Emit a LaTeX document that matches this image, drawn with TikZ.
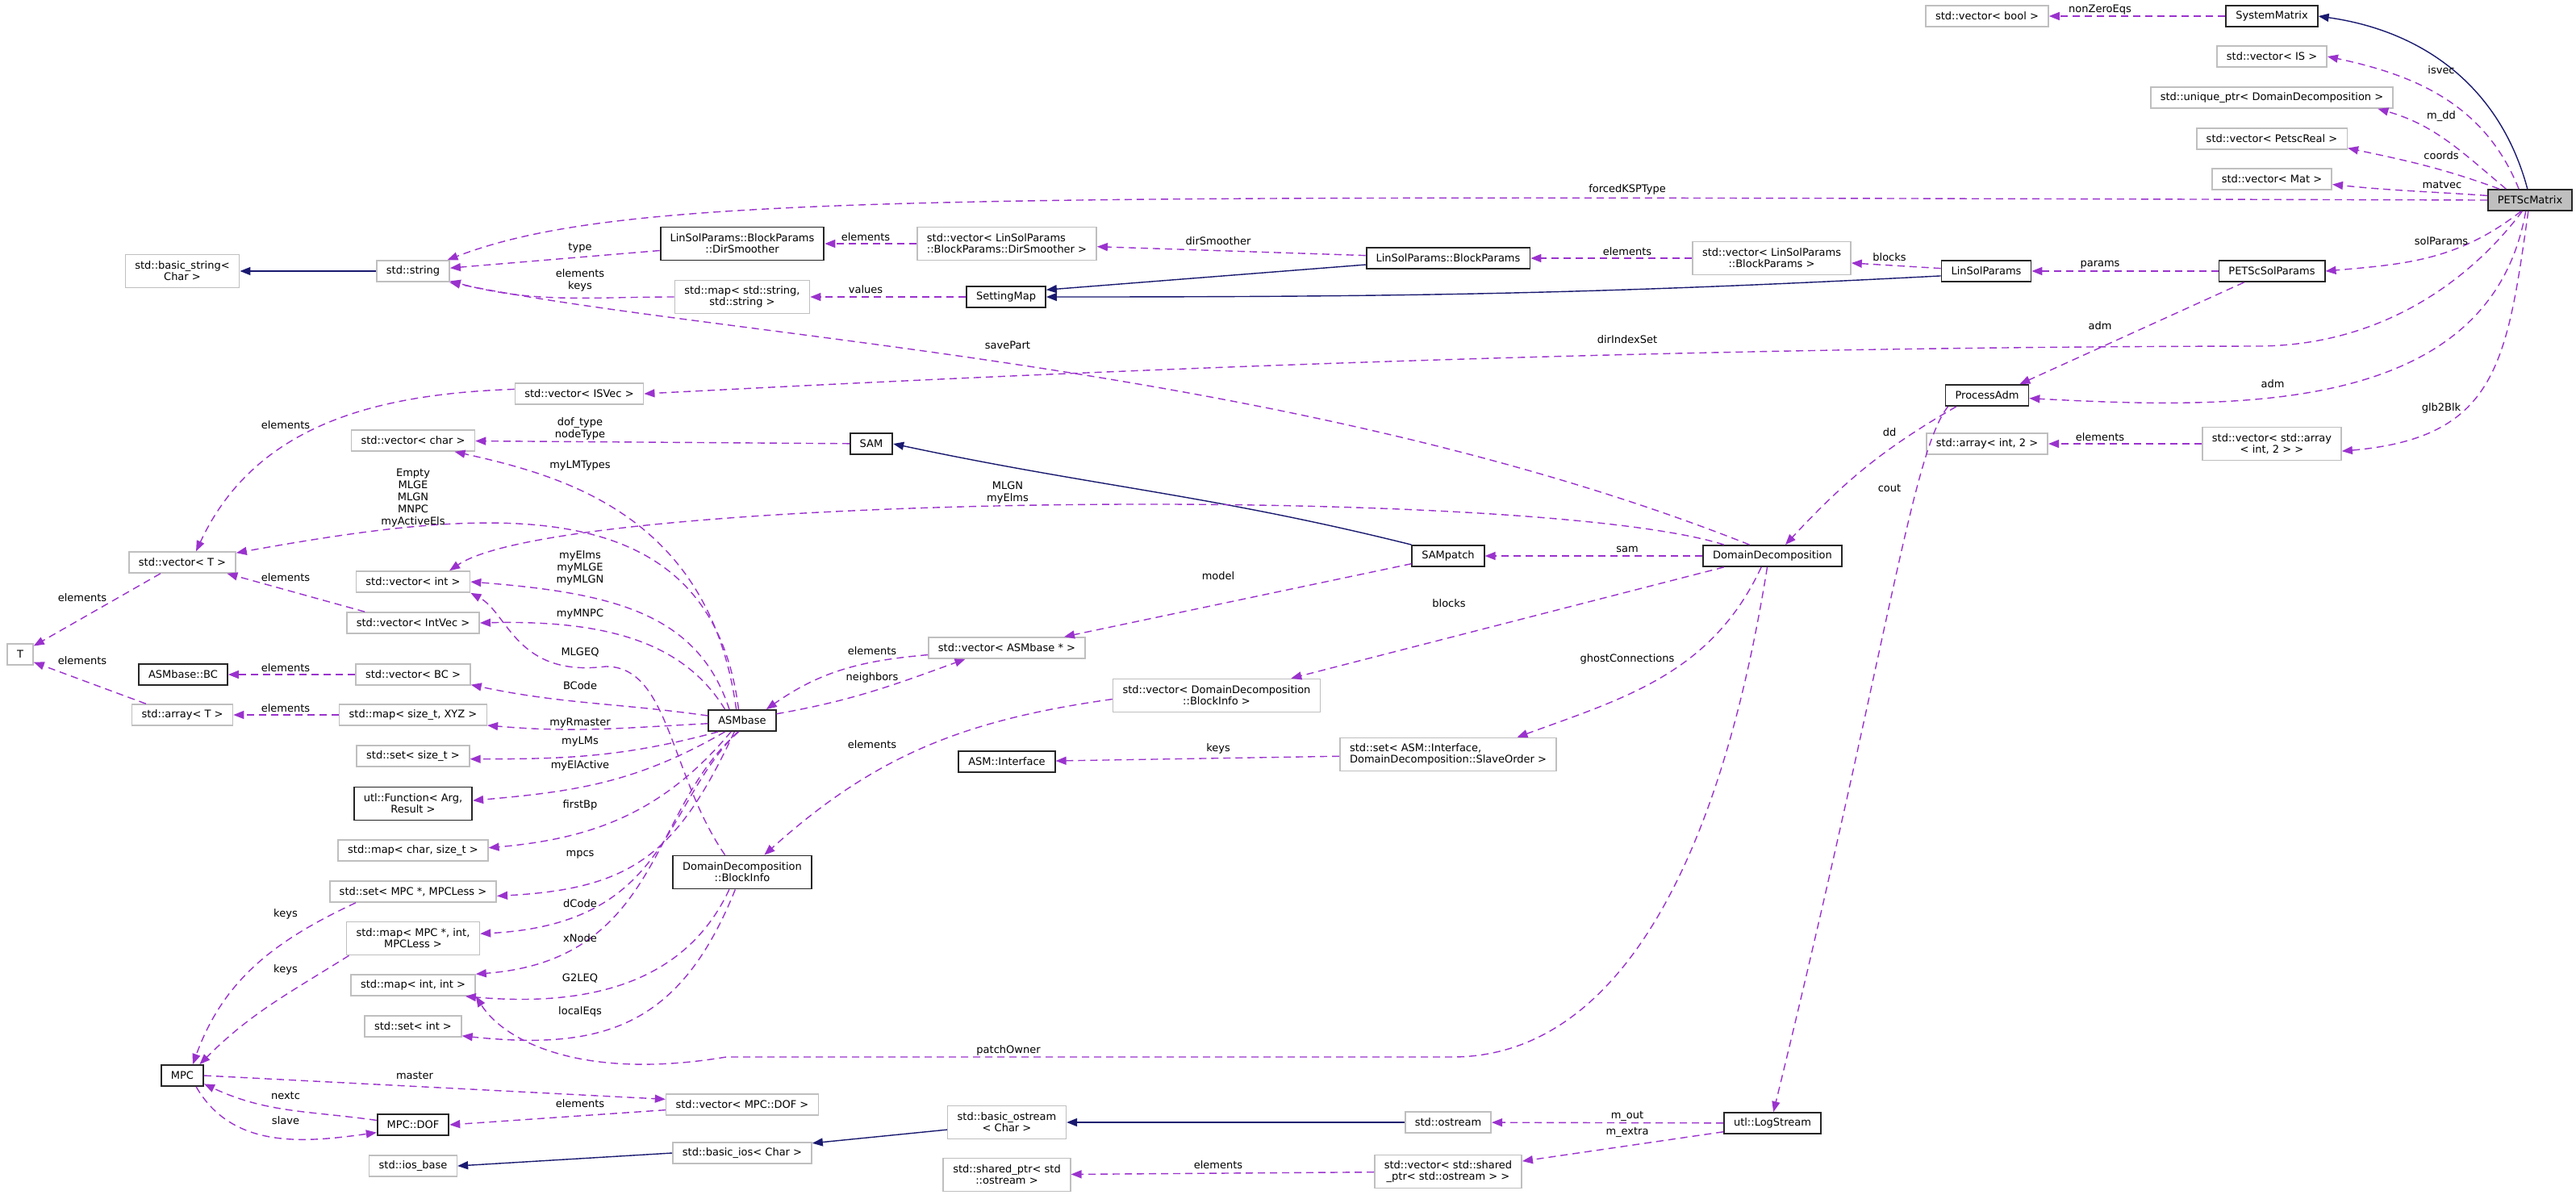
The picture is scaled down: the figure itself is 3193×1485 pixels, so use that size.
\documentclass[tikz,border=0pt]{standalone}
\usepackage{fontspec}
\setmainfont{DejaVu Sans}
\usepackage{xcolor}
\usepackage{tikz}
\usetikzlibrary{arrows.meta}
\definecolor{usecol}{HTML}{9A32CD}
\definecolor{inhcol}{HTML}{191970}
\definecolor{extcol}{HTML}{BFBFBF}

\begin{document}
\begin{tikzpicture}[x=0.5pt, y=-0.5pt,
    every node/.style={font=\fontsize{6.5}{7}\selectfont},
    cls/.style={rectangle, draw=black!85, line width=0.9pt, fill=white,
                minimum height=13pt, inner xsep=6pt, inner ysep=2pt, align=center},
    ext/.style={cls, draw=extcol, line width=0.8pt},
    focus/.style={cls, fill=extcol},
    two/.style={minimum height=20.5pt},
    lbl/.style={inner sep=0pt, align=center, font=\fontsize{6.5}{7.5}\selectfont},
    uses/.style={-{Triangle[length=6.5pt, width=5pt]}, dash pattern=on 4.5pt off 3pt,
                 line width=0.7pt, usecol},
    inh/.style={-{Triangle[length=6.5pt, width=5pt]}, line width=0.7pt, inhcol}
]
\useasboundingbox (0,0) rectangle (3193,1485);

\node[focus] (petscMatrix) at (3136,248) {PETScMatrix};
\node[cls] (systemMatrix) at (2816,20) {SystemMatrix};
\node[ext] (vecBool) at (2463,20) {std::vector< bool >};
\node[ext] (vecIS) at (2816,70) {std::vector< IS >};
\node[ext] (uniqueDD) at (2816,121) {std::unique\_ptr< DomainDecomposition >};
\node[ext] (vecReal) at (2816,172) {std::vector< PetscReal >};
\node[ext] (vecMat) at (2816,222) {std::vector< Mat >};
\node[cls] (petscSolParams) at (2816,336) {PETScSolParams};
\node[cls] (linSolParams) at (2462,336) {LinSolParams};
\node[ext, two] (vecBlockP) at (2196,320) {std::vector< LinSolParams\\::BlockParams >};
\node[cls] (blockParams) at (1795,320) {LinSolParams::BlockParams};
\node[ext, two, align=left] (vecDirSm) at (1248,302) {std::vector< LinSolParams\\::BlockParams::DirSmoother >};
\node[cls, two] (dirSmoother) at (920,302) {LinSolParams::BlockParams\\::DirSmoother};
\node[cls] (settingMap) at (1247,368) {SettingMap};
\node[ext, two] (mapString) at (920,368) {std::map< std::string,\\std::string >};
\node[ext] (stdString) at (512,336) {std::string};
\node[ext, two] (basicString) at (226,336) {std::basic\_string<\\Char >};
\node[cls] (processAdm) at (2463,490) {ProcessAdm};
\node[ext] (arrayInt) at (2463,550) {std::array< int, 2 >};
\node[ext, two] (vecArray) at (2816,550) {std::vector< std::array\\< int, 2 > >};
\node[ext] (vecISVec) at (718,488) {std::vector< ISVec >};
\node[cls] (domDec) at (2197,689) {DomainDecomposition};
\node[cls] (samPatch) at (1795,689) {SAMpatch};
\node[cls] (sam) at (1080,550) {SAM};
\node[ext] (vecASM) at (1248,803) {std::vector< ASMbase * >};
\node[ext, two] (vecBlockInfo) at (1508,862) {std::vector< DomainDecomposition\\::BlockInfo >};
\node[cls] (asmInterface) at (1248,944) {ASM::Interface};
\node[ext, two, align=left] (setInterface) at (1795,935) {std::set< ASM::Interface,\\ DomainDecomposition::SlaveOrder >};
\node[cls] (asmBase) at (920,893) {ASMbase};
\node[cls, two] (blockInfo) at (920,1081) {DomainDecomposition\\::BlockInfo};
\node[ext] (vecChar) at (512,546) {std::vector< char >};
\node[ext] (vecT) at (226,697) {std::vector< T >};
\node[ext] (vecInt) at (512,721) {std::vector< int >};
\node[ext] (vecIntVec) at (512,772) {std::vector< IntVec >};
\node[ext] (nodeT) at (25,811) {T};
\node[cls] (asmBC) at (227,836) {ASMbase::BC};
\node[ext] (vecBC) at (512,836) {std::vector< BC >};
\node[ext] (arrayT) at (226,886) {std::array< T >};
\node[ext] (mapXYZ) at (512,886) {std::map< size\_t, XYZ >};
\node[ext] (setSize) at (512,937) {std::set< size\_t >};
\node[cls, two] (utlFunction) at (512,996) {utl::Function< Arg,\\Result >};
\node[ext] (mapChar) at (512,1054) {std::map< char, size\_t >};
\node[ext] (setMPC) at (512,1105) {std::set< MPC *, MPCLess >};
\node[ext, two] (mapMPC) at (512,1163) {std::map< MPC *, int,\\MPCLess >};
\node[ext] (mapInt) at (512,1221) {std::map< int, int >};
\node[ext] (setInt) at (512,1272) {std::set< int >};
\node[cls] (mpc) at (226,1333) {MPC};
\node[cls] (mpcDOF) at (512,1394) {MPC::DOF};
\node[ext] (vecDOF) at (920,1369) {std::vector< MPC::DOF >};
\node[ext] (basicIos) at (920,1429) {std::basic\_ios< Char >};
\node[ext] (iosBase) at (512,1445) {std::ios\_base};
\node[ext, two] (basicOstream) at (1248,1391) {std::basic\_ostream\\< Char >};
\node[ext] (ostream) at (1795,1391) {std::ostream};
\node[cls] (logStream) at (2197,1392) {utl::LogStream};
\node[ext, two] (sharedPtr) at (1248,1456) {std::shared\_ptr< std\\::ostream >};
\node[ext, two] (vecShared) at (1795,1452) {std::vector< std::shared\\\_ptr< std::ostream > >};

% inheritance
\draw[inh] (petscMatrix.103) to[out=105, in=-8] (systemMatrix.east);
\draw[inh] (stdString) -- (basicString);
\draw[inh] (blockParams) -- (settingMap.10);
\draw[inh] (linSolParams.186) to[out=183, in=0] (settingMap.east);
\draw[inh] (samPatch.north west) to[out=166, in=-12] (sam.east);
\draw[inh] (ostream) -- (basicOstream);
\draw[inh] (basicOstream.187) -- (basicIos.8);
\draw[inh] (basicIos.west) -- (iosBase.east);

% members
\draw[uses] (systemMatrix) -- (vecBool);
\draw[uses] (petscMatrix.135) to[out=112, in=-12] (vecIS.east);
\draw[uses] (petscMatrix.155) to[out=140, in=-16] (uniqueDD.-6.5);
\draw[uses] (petscMatrix.160) to[out=160, in=-12] (vecReal.-7);
\draw[uses] (petscMatrix.174) to[out=176, in=-6] (vecMat.-5);
\draw[uses] (petscMatrix.west) .. controls (1200,243) and (780,236) .. (stdString.18);
\draw[uses] (petscMatrix.231) to[out=218, in=5] (petscSolParams.east);
\draw[uses] (petscMatrix.235) .. controls (3060,350) and (2950,428) .. (2800,429)
    .. controls (2000,430) and (1300,462) .. (vecISVec.east);
\draw[uses] (petscMatrix.249) to[out=-100, in=-3] (processAdm.-4);
\draw[uses] (petscMatrix.261) to[out=-98, in=5, looseness=1.3] (vecArray.-6);
\draw[uses] (petscSolParams) -- (linSolParams);
\draw[uses] (petscSolParams.-158) -- (processAdm.19);
\draw[uses] (linSolParams) -- (vecBlockP);
\draw[uses] (vecBlockP) -- (blockParams);
\draw[uses] (blockParams) -- (vecDirSm);
\draw[uses] (vecDirSm) -- (dirSmoother);
\draw[uses] (dirSmoother) -- (stdString);
\draw[uses] (settingMap) -- (mapString);
\draw[uses] (mapString.west) to[out=180, in=-15] (stdString.-15);
\draw[uses] (domDec.154) .. controls (1600,450) and (900,420) .. (stdString.-17);
\draw[uses] (processAdm.200) to[out=210, in=47] (domDec.41);
\draw[uses] (processAdm.196) .. controls (2370,560) and (2340,800) .. (logStream.85);
\draw[uses] (vecArray) -- (arrayInt);
\draw[uses] (domDec) -- (samPatch);
\draw[uses] (domDec.167) .. controls (1900,600) and (700,610) .. (vecInt.17);
\draw[uses] (domDec.193) -- (vecBlockInfo.13);
\draw[uses] (domDec.225) to[out=245, in=20] (setInterface.14);
\draw[uses] (domDec.245) .. controls (2130,1080) and (2000,1310) .. (1800,1310) -- (900,1310)
    .. controls (720,1340) and (625,1290) .. (mapInt.south east);
\draw[uses] (setInterface) -- (asmInterface);
\draw[uses] (vecBlockInfo.182) to[out=188, in=42] (blockInfo.38);
\draw[uses] (samPatch.192) -- (vecASM.11);
\draw[uses] (vecASM.185) to[out=185, in=35] (asmBase.25);
\draw[uses] (asmBase.11) to[out=10, in=200] (vecASM.195);
\draw[uses] (sam) -- (vecChar);
\draw[uses] (vecISVec.176) to[out=182, in=65] (vecT.39);
\draw[uses] (vecT.207) -- (nodeT.32);
\draw[uses] (vecIntVec.167) -- (vecT.-14);
\draw[uses] (arrayT.163) -- (nodeT.-30);
\draw[uses] (vecBC) -- (asmBC);
\draw[uses] (mapXYZ) -- (arrayT);
\draw[uses] (asmBase.118) .. controls (880,640) and (700,590) .. (vecChar.-15);
\draw[uses] (asmBase.108) .. controls (880,600) and (600,630) .. (vecT.10);
\draw[uses] (asmBase.139) .. controls (865,760) and (760,735) .. (vecInt.east);
\draw[uses] (asmBase.147) .. controls (850,800) and (760,768) .. (vecIntVec.east);
\draw[uses] (blockInfo.135) .. controls (830,960) and (830,826) .. (751,826)
    .. controls (640,840) and (630,760) .. (vecInt.south east);
\draw[uses] (asmBase.172) to[out=172, in=-12] (vecBC.-10);
\draw[uses] (asmBase.185) to[out=183, in=-5] (mapXYZ.-8.6);
\draw[uses] (asmBase.205) to[out=195, in=0] (setSize.-3);
\draw[uses] (asmBase.213) to[out=210, in=5] (utlFunction.3);
\draw[uses] (asmBase.225) to[out=230, in=5] (mapChar.2);
\draw[uses] (asmBase.235) to[out=245, in=3, looseness=1.2] (setMPC.-3);
\draw[uses] (asmBase.249) .. controls (820,1000) and (830,1145) .. (mapMPC.4);
\draw[uses] (asmBase.253) .. controls (805,1000) and (820,1190) .. (mapInt.north east);
\draw[uses] (blockInfo.233) to[out=245, in=-5] (mapInt.-12);
\draw[uses] (blockInfo.248) to[out=-112, in=-6, looseness=1.2] (setInt.-11);
\draw[uses] (setMPC.191) to[out=205, in=70] (mpc.47);
\draw[uses] (mapMPC.195) to[out=212, in=45] (mpc.33);
\draw[uses] (mpc.east) -- (vecDOF.176);
\draw[uses] (vecDOF.184) -- (mpcDOF.east);
\draw[uses] (mpcDOF.173) to[out=172, in=-25] (mpc.-21);
\draw[uses] (mpc.-39) to[out=-60, in=188] (mpcDOF.192);
\draw[uses] (logStream) -- (ostream);
\draw[uses] (logStream.190) -- (vecShared.8);
\draw[uses] (vecShared) -- (sharedPtr);

% edge labels
\node[lbl] (lNonZero) at (2603,12) {nonZeroEqs};
\node[lbl] (lIsvec) at (3026,87) {isvec};
\node[lbl] (lMdd) at (3026,144) {m\_dd};
\node[lbl] (lCoords) at (3026,193) {coords};
\node[lbl] (lMatvec) at (3027,229) {matvec};
\node[lbl] (lForced) at (2017,235) {forcedKSPType};
\node[lbl] (lSolParams) at (3026,299) {solParams};
\node[lbl] (lBlocksLin) at (2342,319) {blocks};
\node[lbl] (lParams) at (2603,328) {params};
\node[lbl] (lElBlockP) at (2017,312) {elements};
\node[lbl] (lDirSm) at (1510,299) {dirSmoother};
\node[lbl] (lElDirSm) at (1073,294) {elements};
\node[lbl] (lType) at (719,307) {type};
\node[lbl] (lElKeys) at (719,347) {elements\\keys};
\node[lbl] (lValues) at (1073,359) {values};
\node[lbl] (lSavePart) at (1249,428) {savePart};
\node[lbl] (lDirIndex) at (2017,421) {dirIndexSet};
\node[lbl] (lAdmSol) at (2603,404) {adm};
\node[lbl] (lAdm) at (2817,476) {adm};
\node[lbl] (lGlb2Blk) at (3026,506) {glb2Blk};
\node[lbl] (lDd) at (2342,536) {dd};
\node[lbl] (lElArray) at (2603,542) {elements};
\node[lbl] (lCout) at (2342,605) {cout};
\node[lbl] (lElISVec) at (354,527) {elements};
\node[lbl] (lDofType) at (719,531) {dof\_type\\nodeType};
\node[lbl] (lLMTypes) at (719,577) {myLMTypes};
\node[lbl] (lEmpty) at (512,617) {Empty\\MLGE\\MLGN\\MNPC\\myActiveEls};
\node[lbl] (lMLGN) at (1249,611) {MLGN\\myElms};
\node[lbl] (lSam) at (2017,681) {sam};
\node[lbl] (lModel) at (1510,714) {model};
\node[lbl] (lBlocksDD) at (1796,748) {blocks};
\node[lbl] (lGhost) at (2017,817) {ghostConnections};
\node[lbl] (lKeysIf) at (1510,928) {keys};
\node[lbl] (lElVecT) at (102,741) {elements};
\node[lbl] (lElIntVec) at (354,716) {elements};
\node[lbl] (lMyElms) at (719,704) {myElms\\myMLGE\\myMLGN};
\node[lbl] (lMyMNPC) at (719,761) {myMNPC};
\node[lbl] (lMLGEQ) at (719,808) {MLGEQ};
\node[lbl] (lElArrayT) at (102,819) {elements};
\node[lbl] (lElBC) at (354,828) {elements};
\node[lbl] (lBCode) at (719,850) {BCode};
\node[lbl] (lElXYZ) at (354,878) {elements};
\node[lbl] (lRmaster) at (719,896) {myRmaster};
\node[lbl] (lLMs) at (719,919) {myLMs};
\node[lbl] (lElActive) at (719,949) {myElActive};
\node[lbl] (lElASM) at (1081,807) {elements};
\node[lbl] (lNeighbors) at (1081,840) {neighbors};
\node[lbl] (lElBlockInfo) at (1081,923) {elements};
\node[lbl] (lFirstBp) at (719,998) {firstBp};
\node[lbl] (lMpcs) at (719,1059) {mpcs};
\node[lbl] (lDCode) at (719,1120) {dCode};
\node[lbl] (lKeysSet) at (354,1133) {keys};
\node[lbl] (lXNode) at (719,1163) {xNode};
\node[lbl] (lKeysMap) at (354,1202) {keys};
\node[lbl] (lG2LEQ) at (719,1212) {G2LEQ};
\node[lbl] (lLocalEqs) at (719,1254) {localEqs};
\node[lbl] (lMaster) at (514,1333) {master};
\node[lbl] (lNextc) at (354,1358) {nextc};
\node[lbl] (lElDOF) at (719,1368) {elements};
\node[lbl] (lSlave) at (354,1389) {slave};
\node[lbl] (lPatchOwner) at (1250,1302) {patchOwner};
\node[lbl] (lMout) at (2017,1383) {m\_out};
\node[lbl] (lMextra) at (2017,1403) {m\_extra};
\node[lbl] (lElShared) at (1510,1444) {elements};
\end{tikzpicture}
\end{document}
